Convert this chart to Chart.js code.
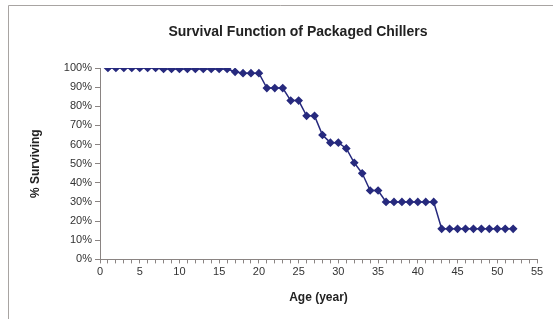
<!DOCTYPE html>
<html>
<head>
<meta charset="utf-8">
<script src="https://cdn.jsdelivr.net/npm/chart.js@4.4.1/dist/chart.umd.min.js"></script>
<style>
  html, body { margin: 0; padding: 0; background: #ffffff; }
  #wrap { width: 554px; height: 320px; position: relative; }
</style>
</head>
<body>
<div id="wrap"><canvas id="c" width="554" height="320"></canvas></div>
<script>
const titleText = "Survival Function of Packaged Chillers";
const xAxisTitle = "Age (year)";
const yAxisTitle = "% Surviving";
const ages = [1,2,3,4,5,6,7,8,9,10,11,12,13,14,15,16,17,18,19,20,21,22,23,24,25,26,27,28,29,30,31,32,33,34,35,36,37,38,39,40,41,42,43,44,45,46,47,48,49,50,51,52];
const surviving = [100,100,100,100,100,100,100,99.5,99.5,99.5,99.5,99.5,99.5,99.5,99.5,99.5,98,97.3,97.3,97.3,89.5,89.5,89.5,83,83,75,75,65,61,61,58,50.5,45,36,36,30,30,30,30,30,30,30,16,16,16,16,16,16,16,16,16,16];
const xMajorLabels = [0,5,10,15,20,25,30,35,40,45,50,55];

const frame = {
  id: 'frame',
  beforeDraw(chart) {
    const ctx = chart.ctx;
    ctx.save();
    ctx.fillStyle = '#ffffff';
    ctx.fillRect(0, 0, chart.width, chart.height);
    ctx.strokeStyle = '#a8a4a2';
    ctx.lineWidth = 1;
    ctx.beginPath();
    ctx.moveTo(8.5, 319);
    ctx.lineTo(8.5, 5.5);
    ctx.lineTo(553, 5.5);
    ctx.stroke();
    ctx.restore();
  },
  afterDraw(chart) {
    const ctx = chart.ctx;
    ctx.save();
    ctx.fillStyle = '#222222';
    ctx.font = 'bold 14px "Liberation Sans"';
    ctx.textAlign = 'center';
    ctx.textBaseline = 'middle';
    ctx.fillText(titleText, 298, 32);
    ctx.restore();
  }
};

new Chart(document.getElementById('c'), {
  type: 'line',
  data: {
    datasets: [{
      data: ages.map((a, i) => ({x: a, y: surviving[i]})),
      borderColor: '#272a7e',
      backgroundColor: '#272a7e',
      borderWidth: 1.5,
      pointStyle: 'rectRot',
      pointRadius: 3.3,
      pointHoverRadius: 3.3,
      tension: 0
    }]
  },
  options: {
    responsive: false,
    animation: false,
    devicePixelRatio: 1,
    layout: { padding: { left: 8, right: 17, top: 68, bottom: 11 } },
    plugins: {
      legend: { display: false },
      tooltip: { enabled: false },
      title: { display: false }
    },
    scales: {
      x: {
        type: 'linear',
        min: 0, max: 55,
        border: { color: '#8a8482', width: 1 },
        grid: { drawOnChartArea: false, drawTicks: true, tickLength: 4, color: '#8a8482' },
        ticks: {
          stepSize: 1,
          autoSkip: false,
          maxRotation: 0,
          padding: 2,
          color: '#333333',
          font: { family: 'Liberation Sans', size: 11 },
          callback: (v) => xMajorLabels.includes(v) ? String(v) : ''
        },
        title: {
          display: true,
          text: xAxisTitle,
          color: '#222222',
          font: { family: 'Liberation Sans', size: 12, weight: 'bold' },
          padding: { top: 10, bottom: 4 }
        }
      },
      y: {
        min: 0, max: 100,
        border: { color: '#8a8482', width: 1 },
        grid: { drawOnChartArea: false, drawTicks: true, tickLength: 5, color: '#8a8482' },
        ticks: {
          stepSize: 10,
          padding: 3,
          color: '#333333',
          font: { family: 'Liberation Sans', size: 11 },
          callback: (v) => v + '%'
        },
        title: {
          display: true,
          text: yAxisTitle,
          color: '#222222',
          font: { family: 'Liberation Sans', size: 12, weight: 'bold' },
          padding: { top: 20, bottom: 0 }
        },
        afterFit(scale) { scale.width = 92; }
      }
    }
  },
  plugins: [frame]
});
</script>
</body>
</html>
